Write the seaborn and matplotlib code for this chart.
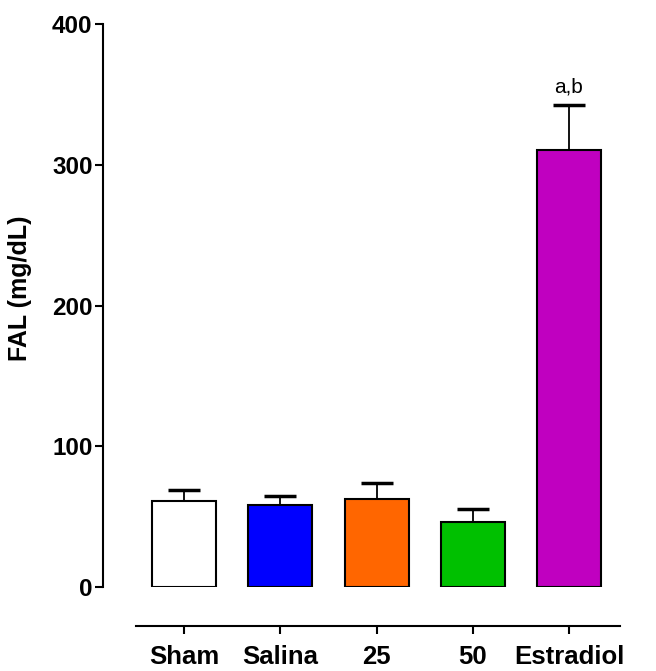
import matplotlib
matplotlib.use("Agg")
import matplotlib.pyplot as plt
import seaborn as sns
import pandas as pd

# Group labels, means and SEM of FAL (mg/dL)
groups = ["Sham", "Salina", "25", "50", "Estradiol"]
means = [60.8, 58.0, 62.7, 46.2, 310.6]
sems = [7.8, 6.8, 10.9, 9.2, 31.9]
colors = ["#FFFFFF", "#0000FF", "#FF6600", "#00C000", "#C000C0"]
annotations = ["", "", "", "", "a,b"]
y_ticks = [0, 100, 200, 300, 400]

df = pd.DataFrame({"group": groups, "FAL": means})

sns.set_style("white")
plt.rcParams["font.family"] = ["Liberation Sans", "DejaVu Sans"]
plt.rcParams["text.color"] = "black"
plt.rcParams["xtick.color"] = "black"
plt.rcParams["ytick.color"] = "black"
plt.rcParams["axes.labelcolor"] = "black"

fig = plt.figure(figsize=(6.56, 6.71), dpi=100)
ax = fig.add_axes([0.2073, 0.1252, 0.7378, 0.839])

sns.barplot(data=df, x="group", y="FAL", hue="group", palette=colors,
            legend=False, width=0.665, edgecolor="black", linewidth=1.5,
            errorbar=None, ax=ax, saturation=1)

# Upper-only SEM whiskers
xs = list(range(len(groups)))
_, caps, _ = ax.errorbar(xs, means, yerr=[[0] * len(sems), sems], fmt="none",
                         ecolor="black", elinewidth=1.3, capsize=11.5,
                         capthick=2.5, zorder=1)
caps[0].set_visible(False)

for x, m, s, t in zip(xs, means, sems, annotations):
    if t:
        ax.annotate(t, (x, m + s), xytext=(0, 6), textcoords="offset points",
                    ha="center", va="bottom", fontsize=15)

ax.set_xlim(-0.5, 4.53)
ax.set_ylim(0, 400)
ax.set_yticks(y_ticks)
ax.set_xlabel("")
ax.set_ylabel("FAL (mg/dL)", fontsize=18, fontweight="bold")
ax.yaxis.set_label_coords(-0.214, 0.531)

for side in ["top", "right"]:
    ax.spines[side].set_visible(False)
ax.spines["left"].set_position(("outward", 23.8))
ax.spines["bottom"].set_position(("outward", 28.0))
ax.spines["left"].set_bounds(0, 400)
for side in ["left", "bottom"]:
    ax.spines[side].set_linewidth(1.5)
    ax.spines[side].set_color("black")

ax.tick_params(axis="y", direction="out", length=5.5, width=1.5,
               labelsize=17.5, pad=2, left=True)
ax.tick_params(axis="x", direction="out", length=6, width=1.5,
               labelsize=18.5, pad=8, bottom=True)
for lbl in ax.get_yticklabels() + ax.get_xticklabels():
    lbl.set_fontweight("bold")

fig.savefig("out.png", dpi=100)
